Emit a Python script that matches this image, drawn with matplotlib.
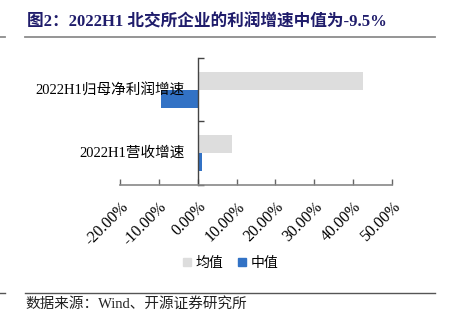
import matplotlib
matplotlib.use("Agg")
import matplotlib.pyplot as plt
import numpy as np
from matplotlib.ticker import FuncFormatter
from matplotlib.lines import Line2D

categories = ["2022H1营收增速", "2022H1归母净利润增速"]
mean_vals = [8.7, 42.5]
median_vals = [1.2, -9.5]
series_names = ["均值", "中值"]
xticks = [-20, -10, 0, 10, 20, 30, 40, 50]

SERIF = ["Liberation Serif", "Noto Sans CJK SC"]
GRAY = "#DDDDDD"
BLUE = "#3272C5"

fig = plt.figure(figsize=(4.51, 3.24), dpi=100)
W, H = 451, 324
ax = fig.add_axes([120 / W, 1 - 185 / H, (392 - 120) / W, (185 - 58) / H])

y = np.arange(len(categories))
h = 0.286
ax.barh(y + h / 2, mean_vals, height=h, color=GRAY, label=series_names[0])
ax.barh(y - h / 2, median_vals, height=h, color=BLUE, label=series_names[1])

ax.set_xlim(-20, 50)
ax.set_ylim(-0.5, 1.5)
ax.set_xticks(xticks)
ax.xaxis.set_major_formatter(FuncFormatter(lambda v, p: f"{v:.2f}%"))
for lab in ax.get_xticklabels():
    lab.set_rotation(45)
    lab.set_ha("right")
    lab.set_va("top")
    lab.set_rotation_mode("anchor")
    lab.set_family(SERIF)
    lab.set_fontsize(11.5)
ax.tick_params(axis="x", direction="in", length=4, width=1, color="#666666", pad=10)

for s in ["top", "right"]:
    ax.spines[s].set_visible(False)
ax.spines["bottom"].set_color("#888888")
ax.spines["bottom"].set_linewidth(1.2)
ax.spines["left"].set_position(("data", 0))
ax.spines["left"].set_color("#444444")
ax.spines["left"].set_linewidth(1.0)

ax.set_yticks([-0.5, 0.5, 1.5])
ax.set_yticklabels([])
ax.tick_params(axis="y", direction="in", length=4, width=1, color="#444444", left=True, right=False)

label_x = (185 - 120) / (392 - 120) * 70 - 20
for yi, cat in zip(y, categories):
    ax.text(label_x, yi, cat, ha="right", va="center", fontsize=10.5,
            family=SERIF, transform=ax.transData, clip_on=False)

# legend
handles = [Line2D([], [], marker="s", linestyle="none", markersize=6, color=GRAY),
           Line2D([], [], marker="s", linestyle="none", markersize=6, color=BLUE)]
fig.legend(handles, series_names, loc="center", bbox_to_anchor=(230 / W, 1 - 263 / H),
           ncol=2, frameon=False, prop={"family": SERIF, "size": 10},
           handletextpad=0.2, columnspacing=1.0, handlelength=0.8)

# title and decoration lines
fig.text(27 / W, 1 - 22 / H, "图2：2022H1 北交所企业的利润增速中值为-9.5%", fontsize=12,
         fontweight="bold", color="#1F1C6B", family=SERIF, ha="left", va="center")
fig.add_artist(Line2D([25 / W, 435 / W], [1 - 37 / H, 1 - 37 / H], color="#8C8C8C", lw=1.3))
fig.add_artist(Line2D([0, 5 / W], [1 - 37 / H, 1 - 37 / H], color="#8C8C8C", lw=1.3))
fig.add_artist(Line2D([25 / W, 435 / W], [1 - 293 / H, 1 - 293 / H], color="#555555", lw=1.0))
fig.add_artist(Line2D([0, 5 / W], [1 - 293 / H, 1 - 293 / H], color="#555555", lw=1.0))
fig.text(25 / W, 1 - 304 / H, "数据来源：Wind、开源证券研究所", fontsize=10.5,
         color="#222222", family=SERIF, ha="left", va="center")

fig.savefig("out.png", dpi=100)
